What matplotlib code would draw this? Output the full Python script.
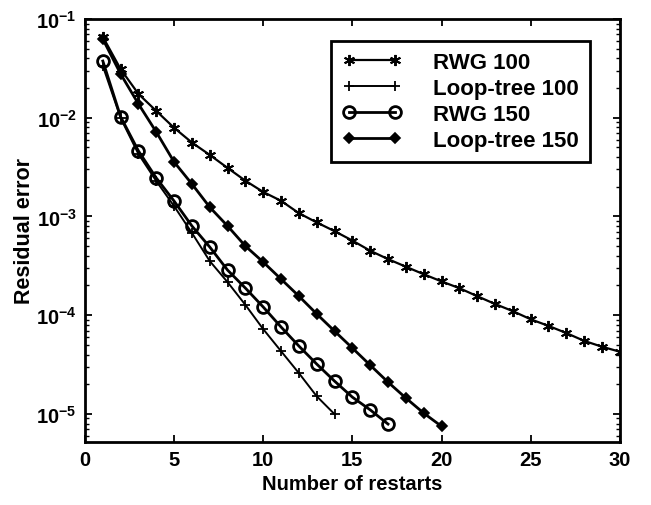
import matplotlib
matplotlib.use("Agg")
import matplotlib.pyplot as plt
from matplotlib.ticker import LogLocator, FixedLocator

plt.rcParams['font.family'] = ['Liberation Sans', 'DejaVu Sans']
plt.rcParams['font.weight'] = 'bold'
plt.rcParams['mathtext.fontset'] = 'custom'
plt.rcParams['mathtext.rm'] = 'Liberation Sans:bold'
plt.rcParams['mathtext.bf'] = 'Liberation Sans:bold'
plt.rcParams['mathtext.it'] = 'Liberation Sans:bold'
plt.rcParams['mathtext.default'] = 'bf'

# Data
x_rwg100 = list(range(1, 31))
y_rwg100 = [0.066, 0.031, 0.0174, 0.0117, 0.0079, 0.0056, 0.0042, 0.0031, 0.0023, 0.00177,
            0.00144, 0.00108, 0.00087, 0.00071, 0.00057, 0.00045, 0.00037, 0.00031, 0.00026, 0.00022,
            0.000188, 0.000156, 0.000130, 0.000110, 0.000091, 0.000078, 0.000066, 0.000055, 0.000048, 0.0000427]

x_lt100 = list(range(1, 15))
y_lt100 = [0.0334, 0.0099, 0.00428, 0.00228, 0.00127, 0.00068, 0.000353, 0.000216, 0.000127,
           0.0000722, 0.0000432, 0.0000259, 0.0000151, 0.00000995]

x_rwg150 = list(range(1, 18))
y_rwg150 = [0.0375, 0.0102, 0.0046, 0.00245, 0.00143, 0.0008, 0.00049, 0.000286, 0.000188,
            0.000121, 0.0000759, 0.0000487, 0.000032, 0.0000215, 0.0000148, 0.0000110, 0.0000079]

x_lt150 = list(range(1, 21))
y_lt150 = [0.0626, 0.0277, 0.01377, 0.00716, 0.00356, 0.00213, 0.00124, 0.0008, 0.000501, 0.000345,
           0.000232, 0.000156, 0.000103, 0.000069, 0.0000465, 0.0000312, 0.000021, 0.0000145,
           0.0000102, 0.0000075]

labels = ["RWG 100", "Loop-tree 100", "RWG 150", "Loop-tree 150"]
xticks = [0, 5, 10, 15, 20, 25, 30]

fig = plt.figure(figsize=(6.51, 5.06), dpi=100)
ax = fig.add_axes([0.1306, 0.1245, 0.8214, 0.836])

ax.plot(x_rwg100, y_rwg100, color='black', lw=1.6, marker=(6, 2, 0), ms=8, mew=1.4, label=labels[0])
ax.plot(x_lt100, y_lt100, color='black', lw=1.4, marker='+', ms=7, mew=1.3, label=labels[1])
ax.plot(x_rwg150, y_rwg150, color='black', lw=2.0, marker='o', ms=8.5, mfc='none', mew=2.0, label=labels[2])
ax.plot(x_lt150, y_lt150, color='black', lw=2.0, marker='D', ms=5, mew=1.2, label=labels[3])

ax.set_yscale('log')
ax.set_xlim(0, 30)
ax.set_ylim(5.2e-6, 0.1)
ax.xaxis.set_major_locator(FixedLocator(xticks))
ax.yaxis.set_major_locator(LogLocator(base=10, numticks=10))
ax.yaxis.set_minor_locator(LogLocator(base=10, subs=range(2, 10), numticks=20))

ax.tick_params(axis='both', which='both', direction='in', top=True, right=True)
ax.tick_params(axis='both', which='major', length=5, width=1.3, labelsize=14.5, pad=6)
ax.tick_params(axis='both', which='minor', length=3, width=1.0)
for sp in ax.spines.values():
    sp.set_linewidth(2.0)

ax.set_xlabel("Number of restarts", fontsize=14.5, fontweight='bold', labelpad=3)
ax.set_ylabel("Residual error", fontsize=15.5, fontweight='bold', labelpad=1)

leg = ax.legend(loc='upper right', bbox_to_anchor=(0.944, 0.948), fontsize=16,
                numpoints=2, handlelength=2.7, fancybox=False, framealpha=1,
                edgecolor='black', borderpad=0.5, labelspacing=0.22, handletextpad=1.4,
                borderaxespad=0)
leg.get_frame().set_linewidth(2.0)

fig.savefig("out.png", dpi=100)
